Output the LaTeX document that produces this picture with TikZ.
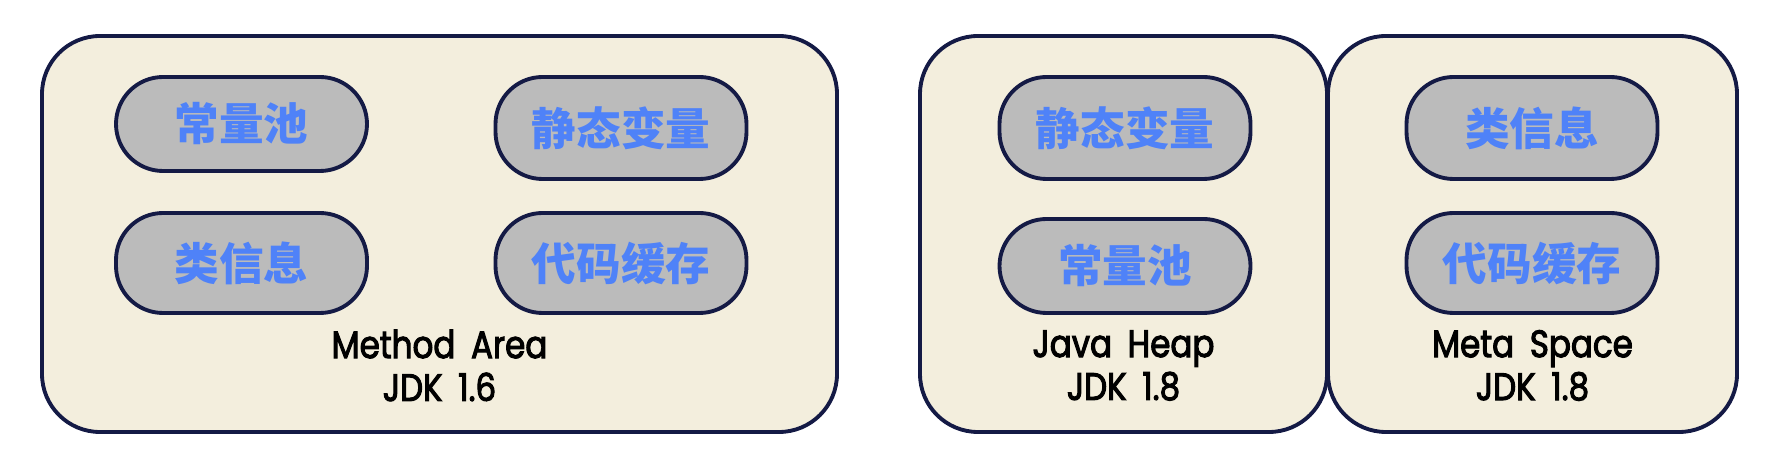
\documentclass[tikz,border=0pt]{standalone}
\usepackage{fontspec}
\setmainfont{Poppins}[FakeStretch=0.85,FakeBold=2.6,WordSpace=1.8]
\newfontfamily\cjk{Noto Sans CJK SC}
\definecolor{boxfill}{HTML}{F3EEDD}
\definecolor{boxline}{HTML}{141A45}
\definecolor{pillfill}{HTML}{BBBBBB}
\definecolor{cjkblue}{HTML}{4F82F8}
\begin{document}
\begin{tikzpicture}[
	area/.style={ rectangle, draw=boxline, fill=boxfill, line width=1.1pt, rounded corners=0.58cm, minimum height=3.96cm },
	pill/.style={ rectangle, draw=boxline, fill=pillfill, line width=1.1pt, rounded corners=0.47cm, minimum width=2.51cm, minimum height=1.0cm, text=cjkblue, font=\cjk\bfseries\fontsize{12.7pt}{14pt}\selectfont },
	areaname/.style={ align=center, font=\fontsize{10.9pt}{12.2pt}\selectfont }
]
\useasboundingbox (0,0) rectangle (17.81,4.62);

% the three memory areas
\node at (4.395,2.28) (method) [area,minimum width=7.95cm] {};
\node at (11.235,2.28) (heap) [area,minimum width=4.07cm] {};
\node at (15.325,2.28) (meta) [area,minimum width=4.09cm] {};

% method area, jdk 1.6
\node at (2.415,3.38) (mpool) [pill,minimum height=0.94cm] {常量池};
\node at (6.21,3.34) (mstatic) [pill,minimum height=1.02cm] {静态变量};
\node at (2.415,1.99) (mclass) [pill] {类信息};
\node at (6.21,1.99) (mcode) [pill] {代码缓存};
\node at (4.395,0.965) (mname) [areaname] {Method Area\\JDK 1.6};

% java heap, jdk 1.8
\node at (11.25,3.34) (hstatic) [pill,minimum height=1.02cm] {静态变量};
\node at (11.25,1.96) (hpool) [pill,minimum height=0.94cm] {常量池};
\node at (11.235,0.965) (hname) [areaname] {Java Heap\\JDK 1.8};

% meta space, jdk 1.8
\node at (15.32,3.34) (sclass) [pill,minimum height=1.02cm] {类信息};
\node at (15.32,1.99) (scode) [pill] {代码缓存};
\node at (15.325,0.965) (sname) [areaname] {Meta Space\\JDK 1.8};

\end{tikzpicture}
\end{document}
